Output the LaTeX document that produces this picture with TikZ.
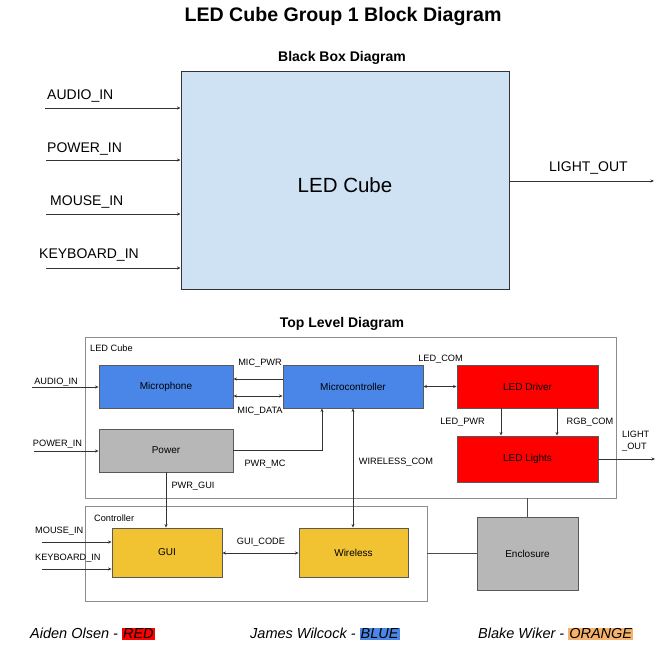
\documentclass[tikz,border=0pt]{standalone}
\usepackage{fontspec}
\setmainfont{Liberation Sans}
\usetikzlibrary{arrows.meta}
\definecolor{lblue}{HTML}{CFE2F3}
\definecolor{mblue}{HTML}{4A86E8}
\definecolor{mred}{HTML}{FF0000}
\definecolor{myel}{HTML}{F1C232}
\definecolor{mgray}{HTML}{B7B7B7}
\definecolor{morange}{HTML}{F6B26B}
\definecolor{edge}{HTML}{595959}
\definecolor{frame}{HTML}{8C8C8C}
\newcommand{\hlword}[2]{{\setlength{\fboxsep}{1pt}\colorbox{#1}{#2}}}
\begin{document}
\begin{tikzpicture}[x=1pt,y=-1pt,
  box/.style={draw=edge, line width=0.9pt, inner sep=0pt, font=\fontsize{10}{12}\selectfont, text=black},
  grp/.style={draw=frame, line width=0.8pt},
  arr/.style={line width=0.7pt, draw=black!80, -{Stealth[length=3.5pt,width=3pt]}},
  biarr/.style={line width=0.7pt, draw=black!80, {Stealth[length=3.5pt,width=3pt]}-{Stealth[length=3.5pt,width=3pt]}},
  plain/.style={line width=0.7pt, draw=black!70},
  lbl/.style={font=\fontsize{9.2}{11}\selectfont, inner sep=0pt},
  biglbl/.style={font=\fontsize{14}{16}\selectfont, inner sep=0pt, anchor=west},
  head/.style={font=\bfseries\fontsize{14}{16}\selectfont, inner sep=0pt},
  foot/.style={font=\itshape\fontsize{14.5}{17}\selectfont, inner sep=0pt, anchor=west}
]
\useasboundingbox (0,0) rectangle (658,667);

% titles
\node[font=\bfseries\fontsize{19.6}{22}\selectfont, inner sep=0pt] (title) at (343,16) {LED Cube Group 1 Block Diagram};
\node[head] (bbt) at (342,58) {Black Box Diagram};
\node[head] (tlt) at (342,324) {Top Level Diagram};

% black box
\node[draw=black!80, line width=1pt, fill=lblue, minimum width=328pt, minimum height=218pt, inner sep=0pt] (bb) at (345,180) {};
\node[font=\fontsize{20.5}{24}\selectfont, inner sep=0pt] (bbl) at (345,185) {LED Cube};

\coordinate (ai) at (45,108);
\coordinate (pi) at (46,160);
\coordinate (mi) at (46,214);
\coordinate (ki) at (46,268);
\coordinate (lo) at (654,181);
\draw[arr] (ai) -- (ai -| bb.west);
\draw[arr] (pi) -- (pi -| bb.west);
\draw[arr] (mi) -- (mi -| bb.west);
\draw[arr] (ki) -- (ki -| bb.west);
\draw[arr] (lo -| bb.east) -- (lo);
\node[biglbl] (ail) at (47,96) {AUDIO\_IN};
\node[biglbl] (pil) at (47,149) {POWER\_IN};
\node[biglbl] (mil) at (50,202) {MOUSE\_IN};
\node[biglbl] (kil) at (39,255) {KEYBOARD\_IN};
\node[biglbl] (lol) at (549,168) {LIGHT\_OUT};

% top level: groups
\node[grp, minimum width=531pt, minimum height=161pt, inner sep=0pt] (cube) at (350.5,417.5) {};
\node[lbl, anchor=west] (cubel) at (90,348) {LED Cube};
\node[grp, minimum width=342pt, minimum height=95pt, inner sep=0pt] (ctrl) at (256,553.5) {};
\node[lbl, anchor=west] (ctrll) at (94,518) {Controller};

% blocks
\node[box, fill=mblue, minimum width=134pt, minimum height=43pt] (mic) at (166,386.5) {Microphone};
\node[box, fill=mblue, minimum width=140pt, minimum height=43pt] (mcu) at (353,386.5) {Microcontroller};
\node[box, fill=mred, minimum width=141pt, minimum height=43pt] (drv) at (527.5,386.5) {LED Driver};
\node[box, fill=mred, minimum width=141pt, minimum height=46pt] (lights) at (527.5,459) {LED Lights};
\node[box, fill=mgray, minimum width=134pt, minimum height=43pt] (pwr) at (166,450.5) {Power};
\node[box, fill=myel, minimum width=110pt, minimum height=49pt] (gui) at (167,552.5) {GUI};
\node[box, fill=myel, minimum width=109pt, minimum height=49pt] (wl) at (353.5,552.5) {Wireless};
\node[box, fill=mgray, minimum width=101pt, minimum height=73pt] (enc) at (527.5,553.5) {Enclosure};

% connectors
\coordinate (lai) at (32,387);
\coordinate (lpi) at (34,451);
\coordinate (lmi) at (42,542);
\coordinate (lki) at (42,569);
\coordinate (llo) at (655,459);
\coordinate (pwry) at (0,379);
\coordinate (daty) at (0,396);
\coordinate (guiy) at (0,553);
\draw[arr] (lai) -- (lai -| mic.west);
\draw[arr] (lpi) -- (lpi -| pwr.west);
\draw[arr] (mcu.west |- pwry) -- (mic.east |- pwry);
\draw[biarr] (mcu.west |- daty) -- (mic.east |- daty);
\draw[biarr] (mcu.east) -- (drv.west);
\draw[arr] (pwr.east) -| ([xshift=-31pt]mcu.south);
\draw[arr] (pwr.south) -- (pwr.south |- gui.north);
\draw[biarr] (mcu.south) -- (mcu.south |- wl.north);
\draw[arr] ([xshift=-26.5pt]drv.south) -- ([xshift=-26.5pt]lights.north);
\draw[arr] ([xshift=29.5pt]drv.south) -- ([xshift=29.5pt]lights.north);
\draw[arr] (lights.east) -- (llo);
\draw[arr] (lmi) -- (lmi -| gui.west);
\draw[arr] (lki) -- (lki -| gui.west);
\draw[biarr] (gui.east |- guiy) -- (wl.west |- guiy);
\draw[plain] (ctrl.east |- guiy) -- (enc.west |- guiy);
\draw[plain] (enc.north) -- (enc.north |- cube.south);

% connector labels
\node[lbl] (l1) at (56,382) {AUDIO\_IN};
\node[lbl] (l2) at (57.5,444) {POWER\_IN};
\node[lbl] (l3) at (260,363) {MIC\_PWR};
\node[lbl] (l4) at (260,411) {MIC\_DATA};
\node[lbl] (l5) at (265,464) {PWR\_MC};
\node[lbl] (l6) at (193,486) {PWR\_GUI};
\node[lbl] (l7) at (440.5,359) {LED\_COM};
\node[lbl] (l8) at (462.5,422) {LED\_PWR};
\node[lbl] (l9) at (590,422) {RGB\_COM};
\node[lbl] (l10) at (396,462) {WIRELESS\_COM};
\node[lbl, anchor=west, align=left, font=\fontsize{9.2}{12}\selectfont] (l11) at (622,441) {LIGHT\\\_OUT};
\node[lbl, anchor=west] (l12) at (35,531) {MOUSE\_IN};
\node[lbl, anchor=west] (l13) at (35,558) {KEYBOARD\_IN};
\node[lbl] (l14) at (261,542) {GUI\_CODE};

% footer
\node[foot] (f1) at (30,634) {Aiden Olsen - \hlword{mred}{RED}};
\node[foot] (f2) at (250,634) {James Wilcock - \hlword{mblue}{BLUE}};
\node[foot] (f3) at (478,634) {Blake Wiker - \hlword{morange}{ORANGE}};
\end{tikzpicture}
\end{document}
